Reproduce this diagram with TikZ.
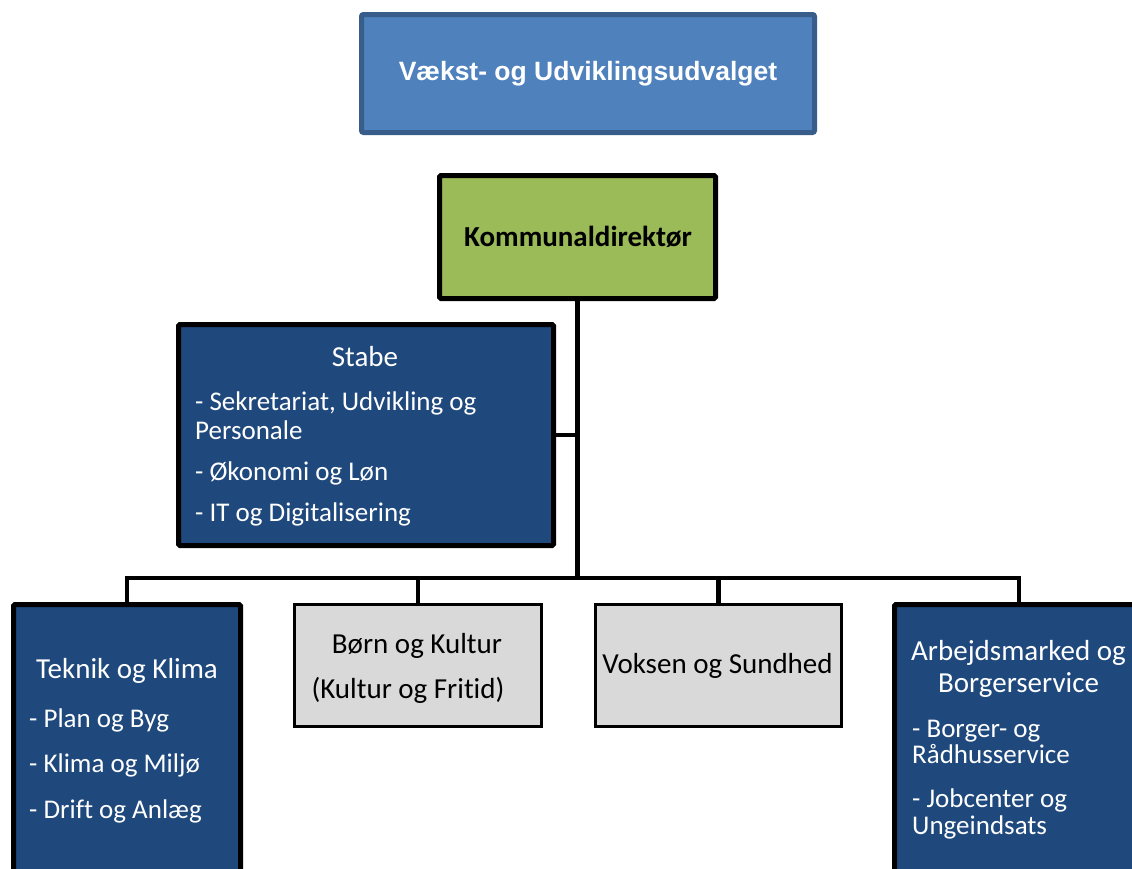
\documentclass[tikz,border=0pt]{standalone}
\usepackage{fontspec}
\setmainfont{Carlito}[Ligatures=NoCommon]
\newfontfamily\arialfont{Liberation Sans}
\usetikzlibrary{positioning}

\definecolor{udvalgblue}{HTML}{4F81BD}
\definecolor{udvalgedge}{HTML}{385D8A}
\definecolor{dirgreen}{HTML}{9BBB59}
\definecolor{areablue}{HTML}{1F497D}
\definecolor{areagray}{HTML}{D9D9D9}

\tikzset{
	udvalgbox/.style={rectangle, rounded corners=2pt, fill=udvalgblue, draw=udvalgedge, line width=5pt},
	dirbox/.style={rectangle, rounded corners=1.5pt, fill=dirgreen, draw=black, line width=5pt},
	bluebox/.style={rectangle, rounded corners=1.5pt, fill=areablue, draw=black, line width=5pt},
	graybox/.style={rectangle, fill=areagray, draw=black, line width=3pt},
	wire/.style={draw=black, line width=4.5pt},
	headtext/.style={inner sep=0pt, font=\fontsize{29}{31}\selectfont},
	itemtext/.style={inner sep=0pt, anchor=base west, font=\fontsize{27}{29}\selectfont},
}

\begin{document}
\begin{tikzpicture}[x=1pt, y=-1pt]
	\clip (0,0) rectangle (1132,868);

	% boxes
	\node[udvalgbox, minimum width=453pt, minimum height=118pt](udvalg) at (588,73.5){};
	\node[dirbox, minimum width=276pt, minimum height=123pt](direktor) at (577.5,237){};
	\node[bluebox, minimum width=375pt, minimum height=221pt](stabe) at (366,435){};
	\node[bluebox, minimum width=227pt, minimum height=353pt](teknik) at (127,781){};
	\node[graybox, minimum width=247pt, minimum height=122pt](born) at (418,665.5){};
	\node[graybox, minimum width=246pt, minimum height=122pt](voksen) at (718.5,665.5){};
	\node[bluebox, minimum width=249pt, minimum height=353pt](arbejde) at (1019,781){};

	% lines
	\coordinate (bus) at (578,578);
	\draw[wire] (direktor.south) -- (direktor.south |- bus);
	\draw[wire] (stabe.east) -- (stabe.east -| direktor.south);
	\draw[wire] (teknik.north) |- (bus) -| (arbejde.north);
	\draw[wire] (born.north) -- (born.north |- bus);
	\draw[wire] (voksen.north) -- (voksen.north |- bus);

	% texts
	\node[inner sep=0pt, anchor=base, text=white, font=\arialfont\bfseries\fontsize{26.5}{30}\selectfont](udvalgtext) at (588,80){Vækst- og Udviklingsudvalget};
	\node[headtext, anchor=base, font=\bfseries\fontsize{29}{31}\selectfont](direktortext) at (578,246){Kommunaldirektør};

	\node[headtext, anchor=base, text=white](stabetitle) at (365,366){Stabe};
	\node[itemtext, text=white](stabeA) at (195,410){- Sekretariat, Udvikling og};
	\node[itemtext, text=white](stabeB) at (195,439){Personale};
	\node[itemtext, text=white](stabeC) at (195,480){- Økonomi og Løn};
	\node[itemtext, text=white](stabeD) at (195,521){- IT og Digitalisering};

	\node[headtext, anchor=base, text=white](teknikititle) at (127,678){Teknik og Klima};
	\node[itemtext, text=white](teknikA) at (29,727){- Plan og Byg};
	\node[itemtext, text=white](teknikB) at (29,772){- Klima og Miljø};
	\node[itemtext, text=white](teknikC) at (29,818){- Drift og Anlæg};

	\node[headtext, anchor=base](bornA) at (417,653){Børn og Kultur};
	\node[headtext, anchor=base](bornB) at (408,698){(Kultur og Fritid)};

	\node[headtext, anchor=base](voksentext) at (717.5,673){Voksen og Sundhed};

	\node[headtext, anchor=base, text=white](arbejdeA) at (1018.5,660){Arbejdsmarked og};
	\node[headtext, anchor=base, text=white](arbejdeB) at (1018.5,692){Borgerservice};
	\node[itemtext, text=white](arbejdeC) at (912,737){- Borger- og};
	\node[itemtext, text=white](arbejdeD) at (912,763){Rådhusservice};
	\node[itemtext, text=white](arbejdeE) at (912,807){- Jobcenter og};
	\node[itemtext, text=white](arbejdeF) at (912,834){Ungeindsats};
\end{tikzpicture}
\end{document}
